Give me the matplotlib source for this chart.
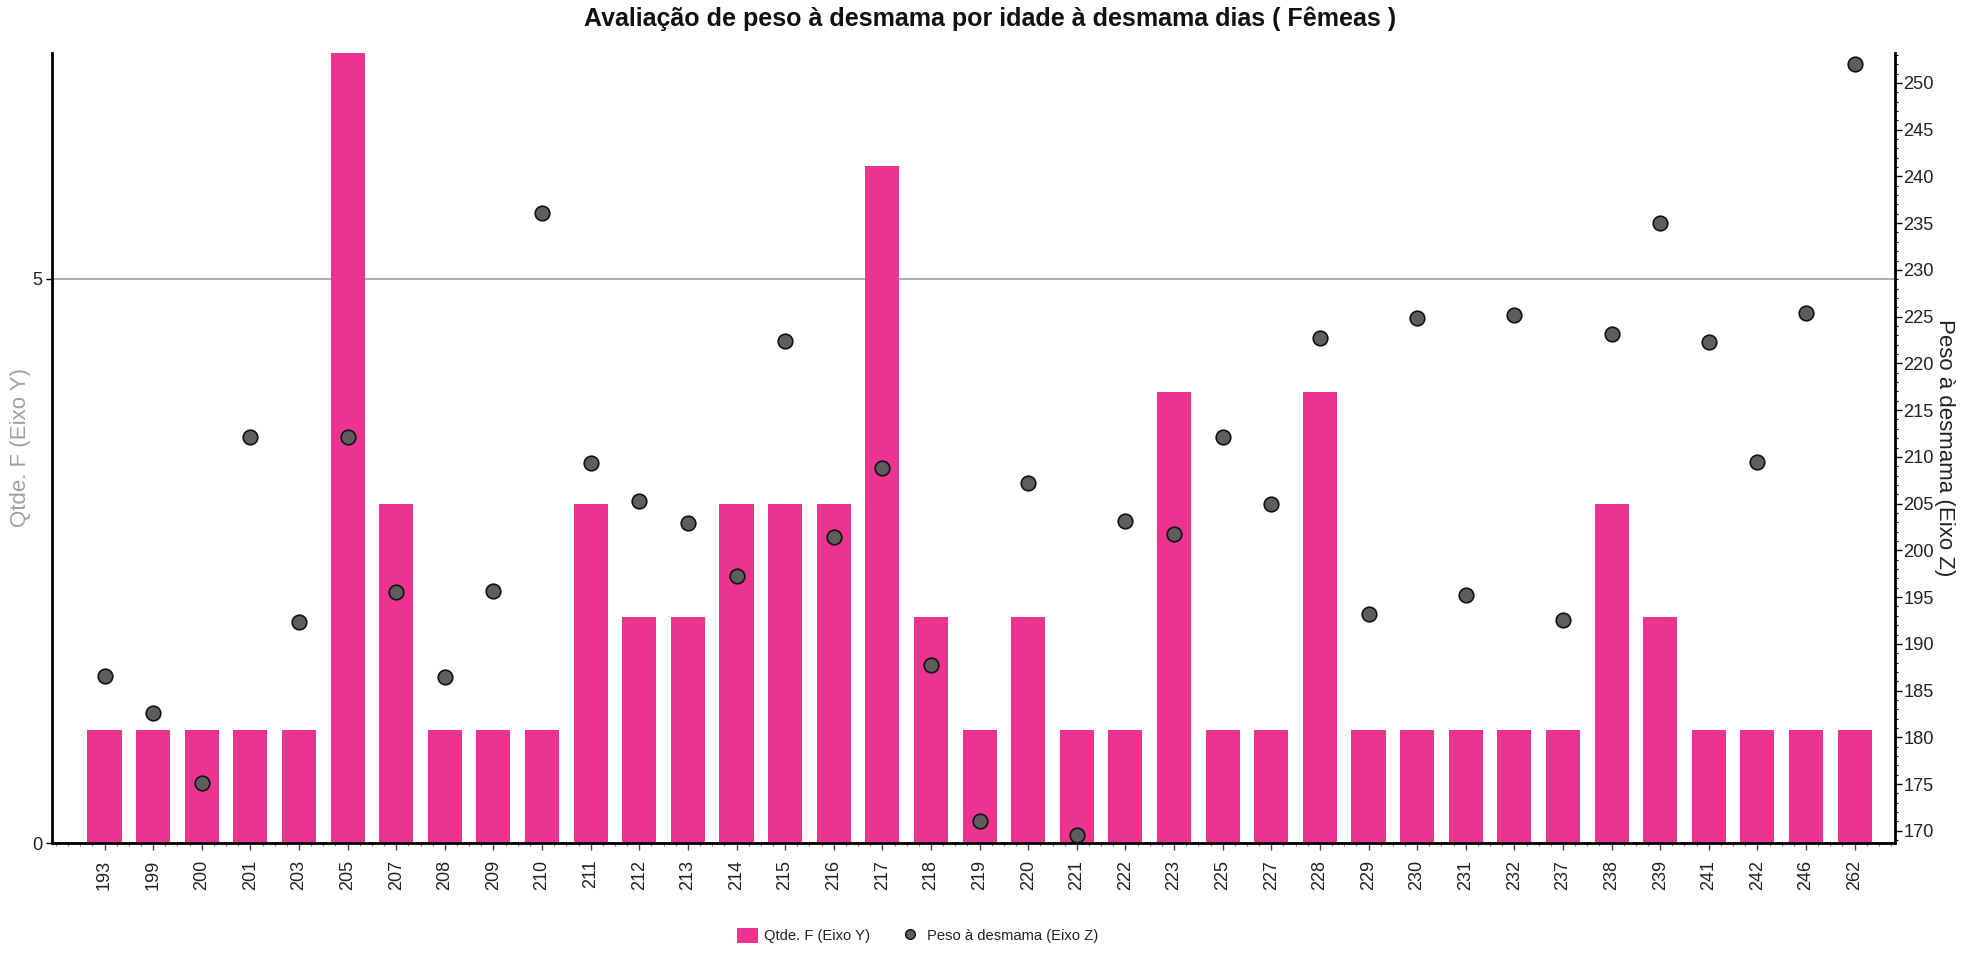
import numpy as np
import matplotlib
matplotlib.use("Agg")
import matplotlib.pyplot as plt
from matplotlib import font_manager as fm
from matplotlib.ticker import MultipleLocator, FixedLocator
from matplotlib.patches import Patch
from matplotlib.lines import Line2D

# Weaning age (days), number of females, and mean weaning weight (kg)
idade = ['193', '199', '200', '201', '203', '205', '207', '208', '209', '210',
         '211', '212', '213', '214', '215', '216', '217', '218', '219', '220',
         '221', '222', '223', '225', '227', '228', '229', '230', '231', '232',
         '237', '238', '239', '241', '242', '246', '262']
qtde = [1, 1, 1, 1, 1, 7, 3, 1, 1, 1,
        3, 2, 2, 3, 3, 3, 6, 2, 1, 2,
        1, 1, 4, 1, 1, 4, 1, 1, 1, 1,
        1, 3, 2, 1, 1, 1, 1]
peso = [186.6, 182.6, 175.1, 212.1, 192.3, 212.1, 195.5, 186.5, 195.7, 236.1,
        209.3, 205.3, 202.9, 197.3, 222.4, 201.4, 208.8, 187.7, 171.1, 207.2,
        169.6, 203.1, 201.8, 212.1, 205.0, 222.7, 193.2, 224.8, 195.2, 225.2,
        192.5, 223.1, 235.0, 222.3, 209.4, 225.4, 252.0]

titulo = 'Avaliação de peso à desmama por idade à desmama dias ( Fêmeas )'
rotulo_y = 'Qtde. F (Eixo Y)'
rotulo_z = 'Peso à desmama (Eixo Z)'

PINK = '#EC3390'
DOT = '#5E5E5E'
TXT = '#222222'

installed = {f.name for f in fm.fontManager.ttflist}
REG = 'Liberation Sans' if 'Liberation Sans' in installed else 'DejaVu Sans'
NARROW = 'Liberation Sans Narrow' if 'Liberation Sans Narrow' in installed else REG
narrow_scale = 1.0 if NARROW != REG else 0.82

fig = plt.figure(figsize=(19.78, 9.56), dpi=100)
ax = fig.add_axes([0.02629, 0.1182, 0.93175, 0.8264])

x = np.arange(len(idade))
ax.bar(x, qtde, width=0.7, color=PINK, zorder=2)
ax.set_xlim(-1.08, len(idade) - 1 + 0.83)
ax.set_ylim(0, 7)
ax.yaxis.set_major_locator(FixedLocator([0, 5]))
ax.yaxis.grid(True, color='#A8A8A8', linewidth=1.3)
ax.set_axisbelow(True)

ax.set_xticks(x)
ax.set_xticklabels(idade, rotation=90, fontsize=13, family=REG, color=TXT)
ax.xaxis.set_minor_locator(MultipleLocator(0.25))
ax.tick_params(axis='x', which='major', length=5, width=1.0, pad=7, color='#444444')
ax.tick_params(axis='x', which='minor', length=2.5, width=0.8, color='#777777')
ax.tick_params(axis='y', which='major', length=4, width=1.0, pad=3,
               labelsize=16 * narrow_scale, labelcolor=TXT)
for lab in ax.get_yticklabels():
    lab.set_family(NARROW)

for side in ('top', 'right'):
    ax.spines[side].set_visible(False)
for side in ('left', 'bottom'):
    ax.spines[side].set_linewidth(2.0)
    ax.spines[side].set_color('black')

ax2 = ax.twinx()
ax2.scatter(x, peso, s=110, c=DOT, edgecolors='#111111', linewidths=1.2, zorder=3)
ax2.set_ylim(168.7, 253.2)
ax2.yaxis.set_major_locator(FixedLocator(list(range(170, 251, 5))))
ax2.yaxis.set_minor_locator(MultipleLocator(1))
ax2.tick_params(axis='y', which='major', length=5, width=1.0, pad=1,
                labelsize=16 * narrow_scale, labelcolor=TXT)
ax2.tick_params(axis='y', which='minor', length=2.5, width=0.8)
for lab in ax2.get_yticklabels():
    lab.set_family(NARROW)
for side in ('top', 'left', 'bottom'):
    ax2.spines[side].set_visible(False)
ax2.spines['right'].set_linewidth(2.0)
ax2.spines['right'].set_color('black')

# Titles and axis captions
fig.text(0.5005, 1 - 19 / 956, titulo, ha='center', va='center',
         fontsize=22 * narrow_scale, fontweight='bold', family=NARROW, color='#111111')
yc = 0.1182 + 0.8264 / 2
fig.text(21 / 1978, yc, rotulo_y, rotation=90, ha='center', va='center',
         fontsize=16, family=REG, color='#A0A0A0')
fig.text(1944 / 1978, yc, rotulo_z, rotation=270, ha='center', va='center',
         fontsize=16, family=REG, color=TXT)

handles = [Patch(facecolor=PINK, edgecolor='none'),
           Line2D([], [], linestyle='', marker='o', markersize=7,
                  markerfacecolor=DOT, markeredgecolor='#111111', markeredgewidth=1.0)]
fig.legend(handles, [rotulo_y, rotulo_z], loc='center', bbox_to_anchor=(0.4639, 0.021),
           ncol=2, frameon=False, handlelength=1.4, handleheight=1.1,
           handletextpad=0.45, columnspacing=2.0,
           prop={'family': NARROW, 'size': 13 * narrow_scale})
for t in fig.legends[0].get_texts():
    t.set_color(TXT)

fig.savefig('out.png', dpi=100)
